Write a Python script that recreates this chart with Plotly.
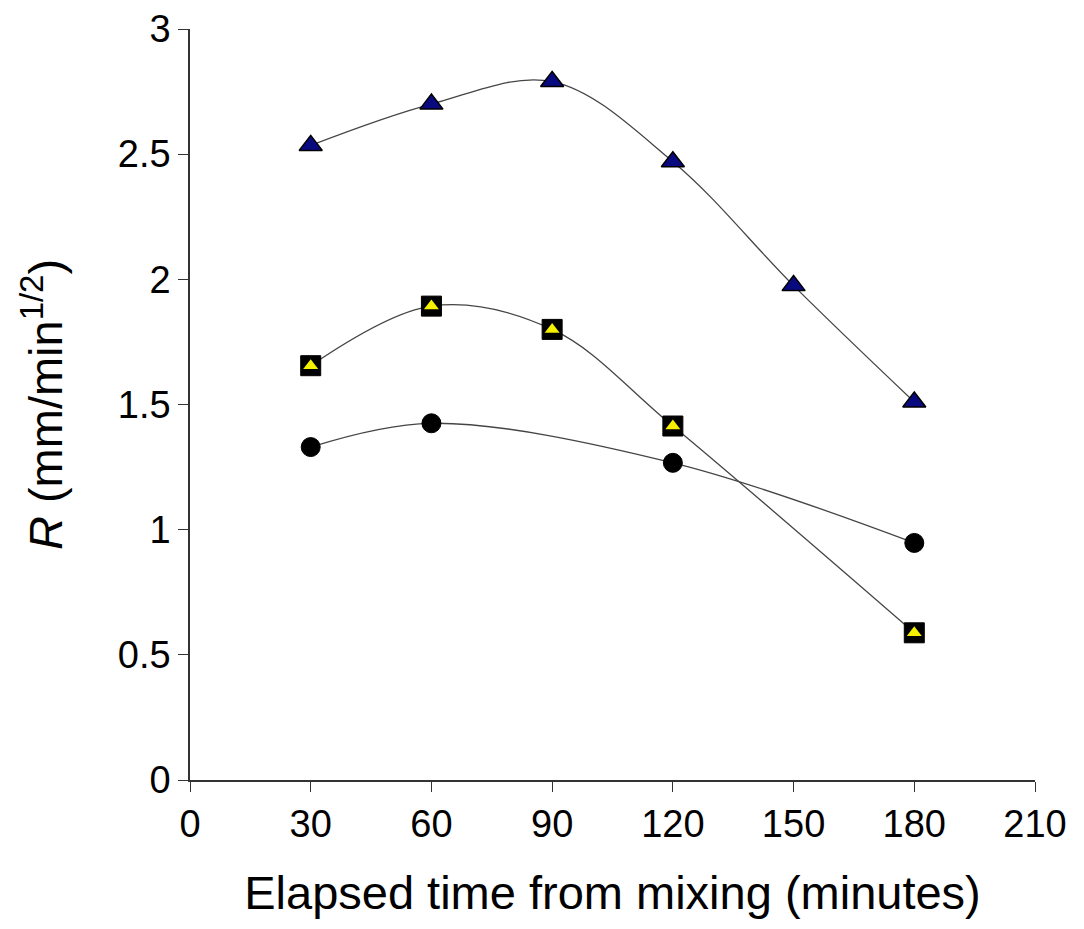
import plotly.graph_objects as go

time_tri = [30, 60, 90, 120, 150, 180]
r_tri = [2.535, 2.70, 2.79, 2.47, 1.975, 1.51]

time_sq = [30, 60, 90, 120, 180]
r_sq = [1.655, 1.893, 1.80, 1.414, 0.588]

time_circ = [30, 60, 120, 180]
r_circ = [1.33, 1.425, 1.267, 0.947]

x_ticks = [0, 30, 60, 90, 120, 150, 180, 210]
y_ticks = [0, 0.5, 1, 1.5, 2, 2.5, 3]
y_tick_text = ["0", "0.5", "1", "1.5", "2", "2.5", "3"]

line_style = dict(color="#454545", width=1.3, shape="spline", smoothing=1.0)

fig = go.Figure()
fig.add_trace(go.Scatter(x=time_circ, y=r_circ, mode="lines+markers", line=line_style,
                         marker=dict(symbol="circle", size=19, color="black",
                                     line=dict(color="black", width=1))))
fig.add_trace(go.Scatter(x=time_sq, y=r_sq, mode="lines+markers", line=line_style,
                         marker=dict(symbol="square", size=20, color="black",
                                     line=dict(color="black", width=1))))
fig.add_trace(go.Scatter(x=time_sq, y=r_sq, mode="markers",
                         marker=dict(symbol="triangle-up", size=13, color="#f5f000",
                                     line=dict(width=0))))
fig.add_trace(go.Scatter(x=time_tri, y=r_tri, mode="lines+markers", line=line_style,
                         marker=dict(symbol="triangle-up", size=20, color="#0a0a80",
                                     line=dict(color="black", width=1.5))))

font = "Liberation Sans, Arial, sans-serif"
fig.update_layout(
    width=1084, height=929,
    margin=dict(l=190, r=49, t=29, b=149),
    plot_bgcolor="white", paper_bgcolor="white",
    showlegend=False,
    font=dict(family=font, color="black", size=38),
    xaxis=dict(range=[0, 210], tickvals=x_ticks, ticks="outside", ticklen=10,
               tickwidth=1, tickcolor="#333", showline=True, linecolor="#333",
               linewidth=1.5, showgrid=False, zeroline=False, automargin=False,
               tickfont=dict(size=38, family=font),
               title=dict(text="Elapsed time from mixing (minutes)",
                          font=dict(size=47, family=font), standoff=32)),
    yaxis=dict(range=[0, 3], tickvals=y_ticks, ticktext=y_tick_text, ticks="outside",
               ticklen=10, tickwidth=1, tickcolor="#333", showline=True,
               linecolor="#333", linewidth=1.5, showgrid=False, zeroline=False,
               automargin=False,
               tickfont=dict(size=38, family=font),
               title=dict(text="<i>R</i> (mm/min<sup>1/2</sup>)",
                          font=dict(size=47, family=font), standoff=40)),
)

fig.write_html("out.html")
